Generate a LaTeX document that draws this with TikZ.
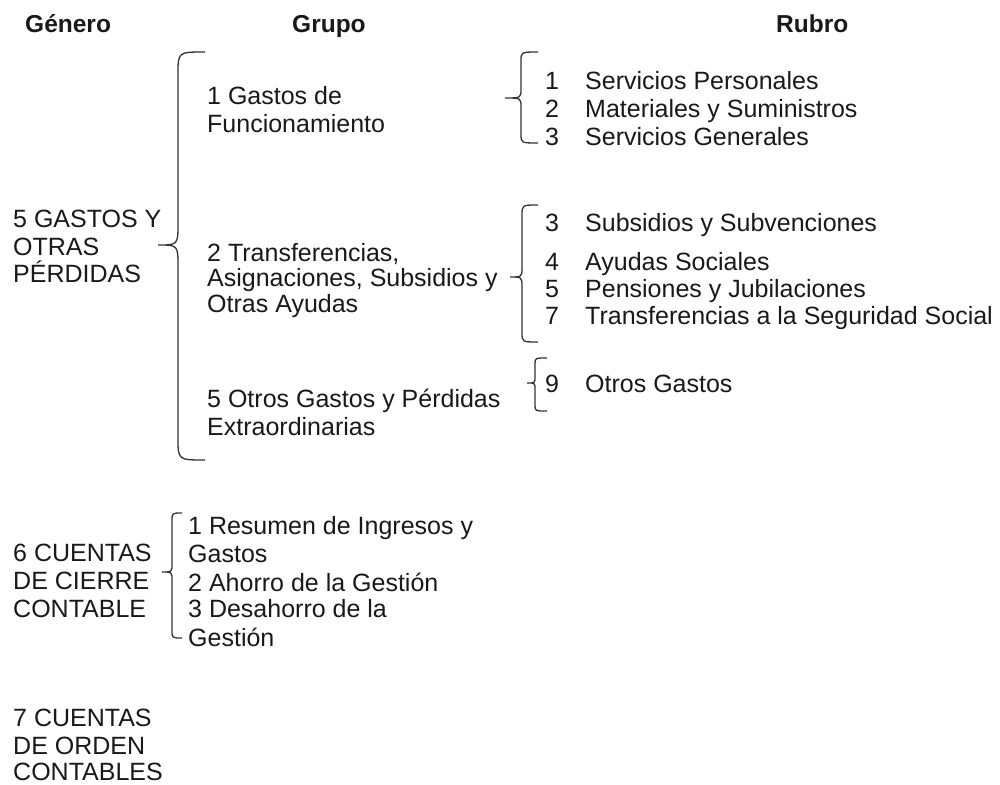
\documentclass[tikz,border=0pt]{standalone}
\usepackage{fontspec}
\setmainfont{Liberation Sans}
\usetikzlibrary{positioning}

% curly bracket: end x, stem x, tip x, top y, tip y, bottom y, radius
\newcommand{\llave}[7]{%
  \draw[bracket] (#1,#4) .. controls (#2,#4) .. (#2,#4+#7)
    -- (#2,#5-#7) .. controls (#2,#5) .. (#3,#5)
    .. controls (#2,#5) .. (#2,#5+#7)
    -- (#2,#6-#7) .. controls (#2,#6) .. (#1,#6);}

\begin{document}
\begin{tikzpicture}[
  x=1pt, y=-1pt,
  txt/.style={anchor=base west, inner sep=0pt, text=black!90,
    font=\fontsize{25}{30}\selectfont},
  head/.style={anchor=base west, inner sep=0pt, text=black!90,
    font=\fontsize{24.5}{28}\selectfont\bfseries},
  bracket/.style={draw=black!80, line width=1.3pt}
]
\useasboundingbox (0,0) rectangle (1000,784);

\node[head] (hgen) at (25,33) {Género};
\node[head] (hgru) at (292,33) {Grupo};
\node[head] (hrub) at (776,33) {Rubro};

% Genero
\foreach \n/\y/\t in {1/227/5 GASTOS Y, 2/255/OTRAS, 3/282/PÉRDIDAS}
  \node[txt] (gen5\n) at (13,\y) {\t};
\foreach \n/\y/\t in {1/561/6 CUENTAS, 2/589/DE CIERRE, 3/617/CONTABLE}
  \node[txt] (gen6\n) at (13,\y) {\t};
\foreach \n/\y/\t in {1/726/7 CUENTAS, 2/754/DE ORDEN, 3/780/CONTABLES}
  \node[txt] (gen7\n) at (13,\y) {\t};

% Grupo
\foreach \n/\y/\t in {1/104/1 Gastos de, 2/132/Funcionamiento}
  \node[txt] (gru1\n) at (207,\y) {\t};
\foreach \n/\y/\t in {1/261/2 Transferencias{,},
    2/286/{Asignaciones, Subsidios y}, 3/312/Otras Ayudas}
  \node[txt] (gru2\n) at (207,\y) {\t};
\foreach \n/\y/\t in {1/407/5 Otros Gastos y Pérdidas, 2/435/Extraordinarias}
  \node[txt] (gru3\n) at (207,\y) {\t};
\foreach \n/\y/\t in {1/534/1 Resumen de Ingresos y, 2/562/Gastos,
    3/591/2 Ahorro de la Gestión, 4/617/3 Desahorro de la, 5/646/Gestión}
  \node[txt] (gru6\n) at (188,\y) {\t};

% Rubro
\foreach \k/\y/\t in {1/89/Servicios Personales, 2/117/Materiales y Suministros,
    3/145/Servicios Generales}
  \node[txt] (rub1\k) at (545,\y) {\makebox[40pt][l]{\k}\t};
\foreach \k/\y/\t in {3/231/Subsidios y Subvenciones, 4/270/Ayudas Sociales,
    5/297/Pensiones y Jubilaciones, 7/324/Transferencias a la Seguridad Social}
  \node[txt] (rub2\k) at (545,\y) {\makebox[40pt][l]{\k}\t};
\node[txt] (rub39) at (545,392) {\makebox[40pt][l]{9}Otros Gastos};

% llaves
\llave{205}{178}{158}{52}{245}{460}{22}
\llave{538}{521}{505}{52}{98}{143}{9}
\llave{538}{522}{510}{205}{277}{342}{10}
\llave{547}{535}{527}{358}{383}{411}{6}
\llave{182}{172}{162}{513}{572}{638}{8}
\end{tikzpicture}
\end{document}
